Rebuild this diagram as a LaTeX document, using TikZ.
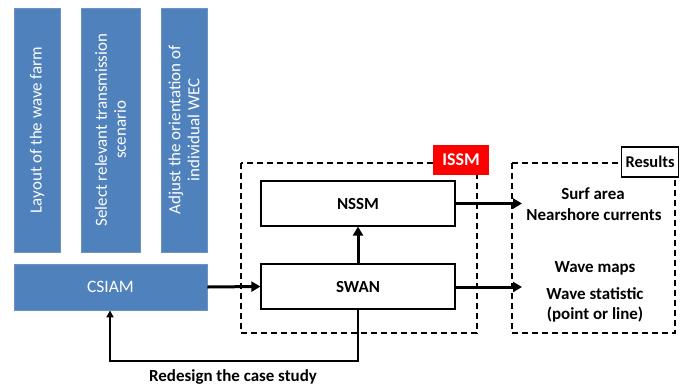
\documentclass[tikz,border=0pt]{standalone}
\usepackage{fontspec}
\setmainfont{Carlito}
\usetikzlibrary{arrows.meta}
\definecolor{offblue}{HTML}{4F81BD}
\definecolor{offblueedge}{HTML}{6F93C0}
\tikzset{
  bluebox/.style={draw=offblueedge, fill=offblue, line width=0.8bp, text=white, align=center},
  bluetext/.style={rotate=90, text=white, align=center, font=\fontsize{17}{19}\selectfont},
  whitebox/.style={draw=black, line width=1.2bp, fill=white, font=\bfseries\fontsize{17}{19}\selectfont},
  groupbox/.style={draw=black, dashed, dash pattern=on 6bp off 4bp, line width=1.3bp},
  thickarrow/.style={line width=3bp, -{Triangle[length=9bp,width=10bp]}},
  thinarrow/.style={line width=2bp, -{Triangle[length=7bp,width=7bp]}},
  restext/.style={font=\bfseries\fontsize{17}{19}\selectfont, inner sep=0pt}
}
\begin{document}
\begin{tikzpicture}[x=1bp,y=-1bp]
\useasboundingbox (0,0) rectangle (680,387);
\clip (0,0) rectangle (680,387);
\fill[white] (0,0) rectangle (680,387);
% blue vertical boxes
\node[bluebox, minimum width=46bp, minimum height=244bp] (b1) at (37,130) {};
\node[bluetext] (t1) at (b1.center) {Layout of the wave farm};
\node[bluebox, minimum width=59bp, minimum height=244bp] (b2) at (110.5,130) {};
\node[bluetext] (t2) at (b2.center) {Select relevant transmission\\scenario};
\node[bluebox, minimum width=46bp, minimum height=244bp] (b3) at (184,130) {};
\node[bluetext] (t3) at (b3.center) {Adjust the orientation of\\individual WEC};
% CSIAM
\node[bluebox, minimum width=193bp, minimum height=46bp, font=\fontsize{17.5}{19}\selectfont] (csiam) at (110.5,287) {CSIAM};
% ISSM dashed group
\draw[groupbox] (241,163) rectangle (477,333);
\node[fill=red, minimum width=56bp, minimum height=30bp, text=white, font=\bfseries\fontsize{18}{20}\selectfont, inner sep=0pt] (issm) at (461,160) {ISSM};
% boxes
\node[whitebox, minimum width=194bp, minimum height=45bp] (nssm) at (358,203.5) {NSSM};
\node[whitebox, minimum width=194bp, minimum height=45bp] (swan) at (358,286.5) {SWAN};
% Results group
\draw[groupbox] (512,163) rectangle (675,333);
\node[draw=black, fill=white, line width=1.2bp, minimum height=30bp, anchor=west, inner xsep=4bp, font=\bfseries\fontsize{16.5}{18}\selectfont] (results) at (621,162) {Results};
% result texts
\node[restext] (surf) at (593,194) {Surf area};
\node[restext] (near) at (594,215) {Nearshore currents};
\node[restext] (wmaps) at (595,268) {Wave maps};
\node[restext] (wstat) at (595,294) {Wave statistic};
\node[restext] (pl) at (595,315) {(point or line)};
% connectors
\coordinate (nout) at (522,203.5);
\coordinate (sout) at (522,287);
\draw[thickarrow] (csiam.east) -- (swan.west);
\draw[thickarrow] (swan.north) -- (nssm.south);
\draw[thickarrow] (nssm.east) -- (nout);
\draw[thickarrow] (swan.east |- sout) -- (sout);
\coordinate (c1) at (358,361);
\coordinate (c2) at (110,361);
\draw[thinarrow] (swan.south) -- (c1) -- (c2) -- (csiam.south -| c2);
\node[font=\bfseries\fontsize{17}{19}\selectfont] (redesign) at (233,377) {Redesign the case study};
\end{tikzpicture}
\end{document}
